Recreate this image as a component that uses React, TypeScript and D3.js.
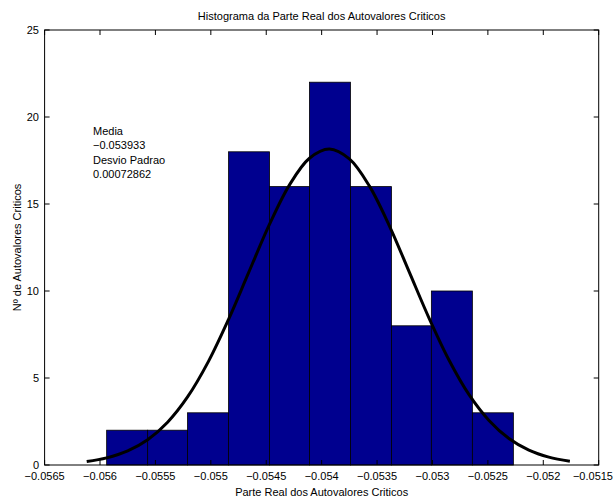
import React from 'react';
import * as d3 from 'd3';

// bin edges and counts
const binEdges = [-0.05594, -0.05557, -0.05521, -0.05484, -0.05447, -0.05411, -0.05374, -0.05337, -0.05301, -0.05264, -0.05227];
const binCounts = [2, 2, 3, 18, 16, 22, 16, 8, 10, 3];

// points
const curveX = [-0.05612, -0.05594, -0.05575, -0.05557, -0.05539, -0.05521, -0.05502, -0.05484, -0.05466, -0.05447, -0.05429, -0.05411, -0.05393, -0.05375, -0.05357, -0.05339, -0.05321, -0.05303, -0.05285, -0.05267, -0.05249, -0.05231, -0.05213, -0.05195, -0.05176];
const curveY = [0.2, 0.41, 0.81, 1.45, 2.46, 3.91, 5.97, 8.37, 11.04, 13.84, 16.1, 17.63, 18.16, 17.59, 16.04, 13.76, 11.1, 8.43, 6.02, 4.04, 2.56, 1.52, 0.85, 0.45, 0.21];

const xTicks = [-0.0565, -0.056, -0.0555, -0.055, -0.0545, -0.054, -0.0535, -0.053, -0.0525, -0.052, -0.0515];
const yTicks = [0, 5, 10, 15, 20, 25];
const annotation = ['Media', '\u22120.053933', 'Desvio Padrao', '0.00072862'];

const W = 614;
const H = 502;
const left = 44.6;
const right = 598.7;
const top = 30;
const bottom = 465;

const fmt = (v: number) => String(v).replace('-', '\u2212');

export default function App() {
  const x = d3.scaleLinear().domain([-0.0565, -0.0515]).range([left, right]);
  const y = d3.scaleLinear().domain([0, 25]).range([bottom, top]);

  const line = d3.line<number>()
    .x((_, i) => x(curveX[i]))
    .y(d => y(d))
    .curve(d3.curveCatmullRom);

  const font = 'Liberation Sans, Arial, Helvetica, sans-serif';

  return (
    <svg width={W} height={H} style={{ position: 'absolute', left: 0, top: 0, background: '#fff' }}
      fontFamily={font} fontSize={11}>
      <rect x={0} y={0} width={W} height={H} fill="#fff" />
      <rect x={left} y={top} width={right - left} height={bottom - top} fill="#fff" />

      {binCounts.map((c, i) => (
        <rect key={i}
          x={x(binEdges[i])}
          y={y(c)}
          width={x(binEdges[i + 1]) - x(binEdges[i])}
          height={y(0) - y(c)}
          fill="#00008F"
          stroke="#000"
          strokeWidth={0.8} />
      ))}

      <path d={line(curveY) || ''} fill="none" stroke="#000" strokeWidth={3} />

      {/* box */}
      <rect x={left} y={top} width={right - left} height={bottom - top} fill="none" stroke="#000" strokeWidth={1} />

      {xTicks.map((t, i) => {
        const last = i === xTicks.length - 1;
        return (
          <g key={i}>
            <line x1={x(t)} x2={x(t)} y1={bottom} y2={bottom - 5} stroke="#000" />
            <line x1={x(t)} x2={x(t)} y1={top} y2={top + 5} stroke="#000" />
            <text x={last ? W - 1 : x(t)} y={480} textAnchor={last ? 'end' : 'middle'}>{fmt(t)}</text>
          </g>
        );
      })}
      {yTicks.map((t, i) => (
        <g key={i}>
          <line x1={left} x2={left + 5} y1={y(t)} y2={y(t)} stroke="#000" />
          <line x1={right} x2={right - 5} y1={y(t)} y2={y(t)} stroke="#000" />
          <text x={39} y={y(t) + 4} textAnchor="end">{t}</text>
        </g>
      ))}

      <text x={(left + right) / 2} y={20} textAnchor="middle">Histograma da Parte Real dos Autovalores Criticos</text>
      <text x={(left + right) / 2} y={496} textAnchor="middle">Parte Real dos Autovalores Criticos</text>
      <text transform={`translate(21,${(top + bottom) / 2}) rotate(-90)`} textAnchor="middle">Nº de Autovalores Criticos</text>

      {annotation.map((s, i) => (
        <text key={i} x={93} y={135 + i * 14.3}>{s}</text>
      ))}
    </svg>
  );
}
